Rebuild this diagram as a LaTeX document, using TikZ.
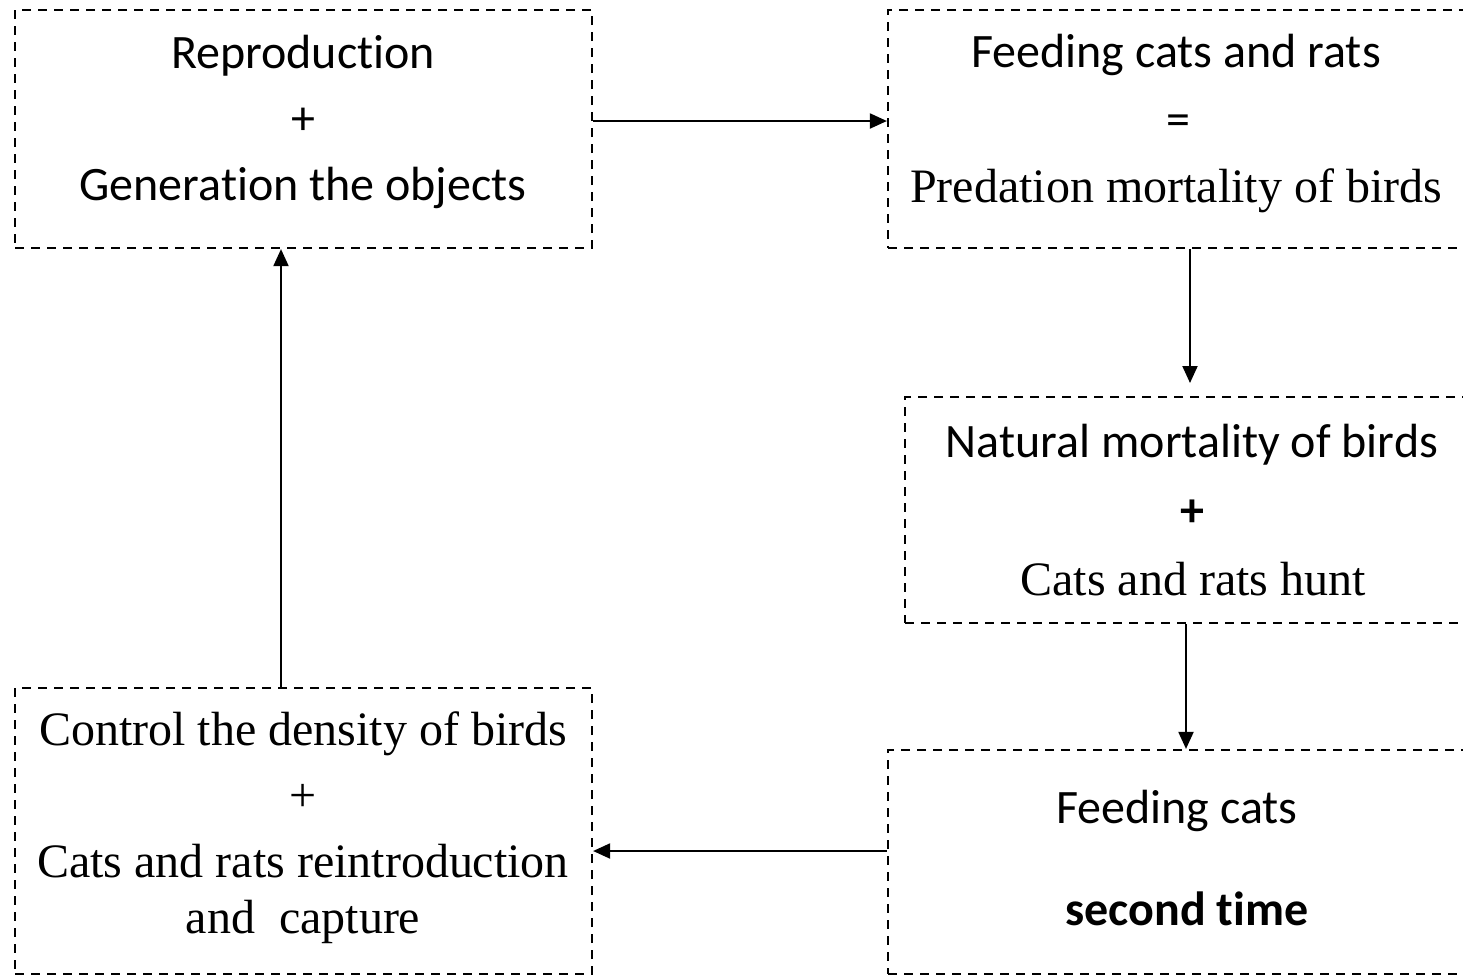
\documentclass[tikz,border=0pt]{standalone}
\usepackage{fontspec}
\setmainfont{Liberation Serif}
\newfontfamily\calibri[Ligatures=NoCommon]{Carlito}
\usetikzlibrary{arrows.meta}

\begin{document}
\begin{tikzpicture}[x=0.5pt, y=-0.5pt, line width=1pt, >={Triangle[length=8.5pt, width=7.5pt]},
  box/.style = {draw, line width=1.1pt, dash pattern=on 4.5pt off 3.5pt, inner sep=0pt},
  sans/.style = {anchor=base, inner sep=0pt, font=\calibri\fontsize{24}{29}\selectfont},
  serif/.style = {anchor=base, inner sep=0pt, font=\rmfamily\fontsize{24}{29}\selectfont}]
\useasboundingbox (0,0) rectangle (1463,976);
\clip (0,0) rectangle (1463,976);
\node[box, minimum width=288.5pt, minimum height=119pt] (b1) at (303.5,129) {};
\node[box, minimum width=293.5pt, minimum height=119pt] (b2) at (1181.5,129) {};
\node[box, minimum width=285pt, minimum height=113pt] (b3) at (1190,510) {};
\node[box, minimum width=293.5pt, minimum height=112pt] (b4) at (1181.5,862) {};
\node[box, minimum width=288.5pt, minimum height=143pt] (b5) at (303.5,831) {};
\node[sans] (r1) at (303,68) {Reproduction};
\node[sans] (r2) at (303,134) {+};
\node[sans] (r3) at (303,200) {Generation the objects};
\node[sans] (f1) at (1176,67) {Feeding cats and rats};
\node[sans] (f2) at (1178,135) {=};
\node[serif] (f3) at (1176,202) {Predation mortality of birds};
\node[sans] (n1) at (1192,457) {Natural mortality of birds};
\node[sans] (n2) at (1192,526) {\bfseries +};
\node[serif] (n3) at (1193,595) {Cats and rats hunt};
\node[sans] (s1) at (1177,823) {Feeding cats};
\node[sans] (s2) at (1187,925) {\bfseries second time};
\node[serif] (c1) at (303,745) {Control the density of birds};
\node[serif] (c2) at (303,811) {+};
\node[serif] (c3) at (303,877) {Cats and rats reintroduction};
\node[serif] (c4) at (303,933) {and\ \ capture};
\coordinate (k12) at (740,121);
\coordinate (k23) at (1190,383);
\coordinate (k34) at (1186,700);
\coordinate (k45) at (740,851);
\coordinate (k51) at (281,470);
\draw[->] (b1.east |- k12) -- (b2.west |- k12);
\draw[->] (b2.south -| k23) -- (k23);
\draw[->] (b3.south -| k34) -- (b4.north -| k34);
\draw[->] (b4.west |- k45) -- (b5.east |- k45);
\draw[->] (b5.north -| k51) -- (b1.south -| k51);
\end{tikzpicture}
\end{document}
